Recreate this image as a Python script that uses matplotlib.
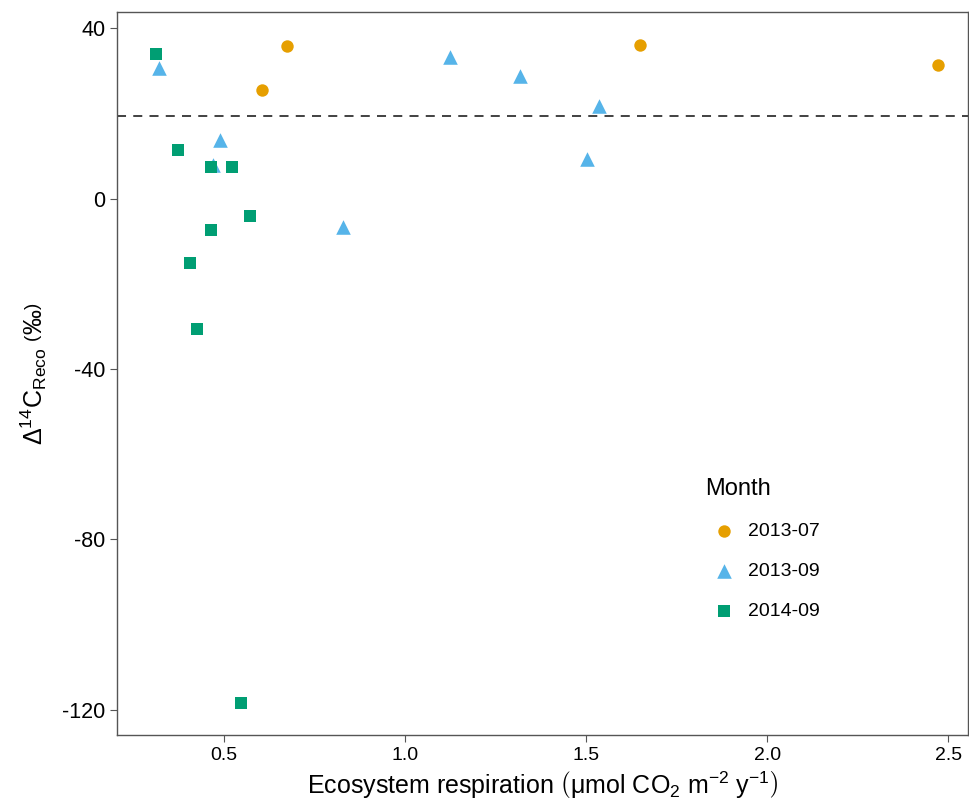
import matplotlib
matplotlib.use("Agg")
import matplotlib.pyplot as plt

# data
jul13_x = [0.605, 0.674, 1.649, 2.472]
jul13_y = [25.6, 35.9, 36.1, 31.4]
sep13_x = [0.320, 1.124, 1.318, 1.536, 1.503, 0.489, 0.470, 0.829]
sep13_y = [30.6, 33.2, 28.8, 21.8, 9.4, 13.8, 7.8, -6.6]
sep14_x = [0.312, 0.373, 0.464, 0.522, 0.572, 0.464, 0.406, 0.425, 0.547]
sep14_y = [34.0, 11.5, 7.5, 7.5, -4.0, -7.3, -15.0, -30.5, -118.5]
atm_line = 19.5

plt.rcParams['font.family'] = ['Liberation Sans', 'DejaVu Sans']
plt.rcParams['mathtext.fontset'] = 'custom'
plt.rcParams['mathtext.rm'] = 'Liberation Sans'
plt.rcParams['mathtext.it'] = 'Liberation Sans:italic'

fig = plt.figure(figsize=(9.69, 8.08), dpi=100)
ax = fig.add_axes([117/969, 1-735/808, 851/969, 723/808])

ax.axhline(atm_line, color='#333333', ls=(0, (5, 4)), lw=1.3, zorder=1)
ax.scatter(jul13_x, jul13_y, marker='o', s=80, color='#E69F00', label='2013-07', zorder=3, linewidths=0)
ax.scatter(sep13_x, sep13_y, marker='^', s=110, color='#56B4E9', label='2013-09', zorder=3, linewidths=0)
ax.scatter(sep14_x, sep14_y, marker='s', s=70, color='#009E73', label='2014-09', zorder=3, linewidths=0)

ax.set_xlim(0.204, 2.555)
ax.set_ylim(-125.9, 43.8)
ax.set_xticks([0.5, 1.0, 1.5, 2.0, 2.5])
ax.set_xticklabels(['0.5', '1.0', '1.5', '2.0', '2.5'], fontsize=14)
ax.set_yticks([40, 0, -40, -80, -120])
ax.set_yticklabels(['40', '0', '-40', '-80', '-120'], fontsize=15.5)
for s in ax.spines.values():
    s.set_color('#555555')
    s.set_linewidth(1.0)
ax.tick_params(colors='#555555', length=5, labelcolor='black')

ax.set_xlabel(r'Ecosystem respiration $\left(\mathrm{μmol\ CO_2\ m^{-2}\ y^{-1}}\right)$', fontsize=18)
ax.set_ylabel(r'$\Delta^{14}\mathrm{C_{Reco}}\ \left(\mathrm{‰}\right)$', fontsize=18, labelpad=9)

leg = ax.legend(title='Month', loc='upper left', bbox_to_anchor=(0.67, 0.38),
                frameon=False, fontsize=14, title_fontsize=17,
                handletextpad=0.25, labelspacing=1.15, alignment='left')

fig.savefig('out.png', dpi=100)
